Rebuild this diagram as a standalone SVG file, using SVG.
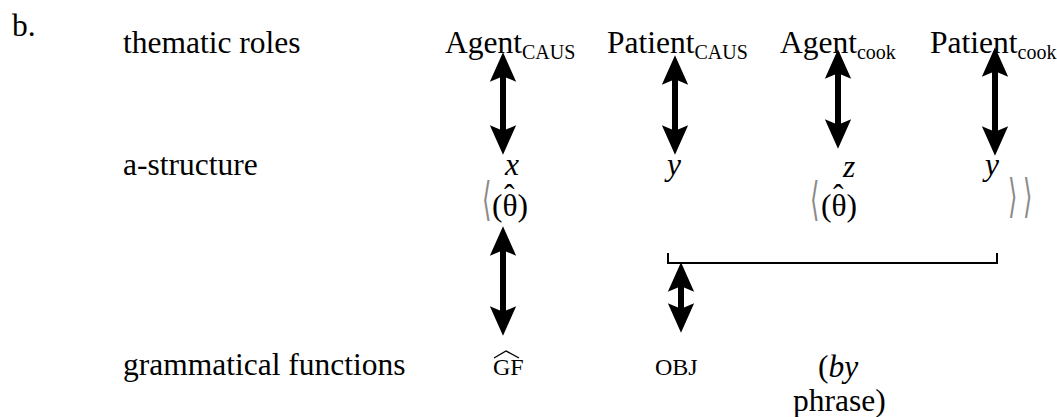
<svg xmlns="http://www.w3.org/2000/svg" width="1057" height="417" viewBox="0 0 1057 417">
<style>
text{font-family:"Liberation Serif","Times New Roman","DejaVu Serif",serif;fill:#000}
.m{font-size:31.5px}
.sub{font-size:20px}
.it{font-style:italic}
.sc{font-size:24px}
.ang{font-family:"DejaVu Sans ExtraLight","DejaVu Sans",sans-serif;font-weight:200;font-size:44px;fill:#8a8a8a}
.conn{stroke:#000;stroke-width:6;fill:none}
.brk{stroke:#000;stroke-width:2;fill:none}
</style>
<defs>
<marker id="ah" markerUnits="userSpaceOnUse" markerWidth="40" markerHeight="40" refX="0" refY="0" orient="auto-start-reverse" overflow="visible" viewBox="-10 -15 35 30">
<path d="M20,0 L-6,-11.5 L-1,0 L-6,11.5 Z" fill="#000"/>
</marker>
</defs>
<rect width="1057" height="417" fill="#fff"/>
<g id="label-b"><text class="m" x="12" y="36">b.</text></g>
<g id="row-thematic"><text class="m" x="123" y="53">thematic roles</text></g>
<g id="row-astructure"><text class="m" x="123" y="175">a-structure</text></g>
<g id="row-gf"><text class="m" x="123" y="375">grammatical functions</text></g>

<g id="agent-caus"><text class="m" x="445" y="53">Agent<tspan class="sub" dy="6">CAUS</tspan></text></g>
<g id="patient-caus"><text class="m" x="607" y="53">Patient<tspan class="sub" dy="6">CAUS</tspan></text></g>
<g id="agent-cook"><text class="m" x="780" y="53">Agent<tspan class="sub" dy="6">cook</tspan></text></g>
<g id="patient-cook"><text class="m" x="930" y="53">Patient<tspan class="sub" dy="6">cook</tspan></text></g>

<g id="var-x"><text class="m it" x="505" y="175">x</text></g>
<g id="var-y1"><text class="m it" x="667" y="175">y</text></g>
<g id="var-z"><text class="m it" x="843" y="177">z</text></g>
<g id="var-y2"><text class="m it" x="985" y="175">y</text></g>

<g id="theta1"><text class="ang" transform="translate(482,215) scale(0.55,1.05)">⟨</text><text class="m" x="492" y="216">(θ<tspan dx="-13.5" dy="-10">ˆ</tspan><tspan dx="3" dy="10">)</tspan></text></g>
<g id="theta2"><text class="ang" transform="translate(810,215) scale(0.55,1.05)">⟨</text><text class="m" x="821" y="216">(θ<tspan dx="-13.5" dy="-10">ˆ</tspan><tspan dx="3" dy="10">)</tspan></text></g>
<g id="close"><text class="ang" transform="translate(1008,212) scale(0.55,1.05)">⟩</text><text class="ang" transform="translate(1023,212) scale(0.55,1.05)">⟩</text></g>

<g id="gf-hat"><text class="sc" x="493" y="375">GF</text><path d="M494,358 L506,351 L519,358" stroke="#000" stroke-width="1.4" fill="none"/></g>
<g id="obj"><text class="sc" x="655" y="375">OBJ</text></g>
<g id="by-phrase"><text class="m" x="818" y="377">(<tspan class="it">by</tspan></text><text class="m" x="793" y="411">phrase)</text></g>

<g id="connectors">
<path class="conn" d="M503,75 L503,132" marker-start="url(#ah)" marker-end="url(#ah)"/>
<path class="conn" d="M675,78 L675,132" marker-start="url(#ah)" marker-end="url(#ah)"/>
<path class="conn" d="M838,72 L838,126" marker-start="url(#ah)" marker-end="url(#ah)"/>
<path class="conn" d="M995,70 L995,133" marker-start="url(#ah)" marker-end="url(#ah)"/>
<path class="conn" d="M503,249 L503,313" marker-start="url(#ah)" marker-end="url(#ah)"/>
<path class="conn" d="M681,285 L681,310" marker-start="url(#ah)" marker-end="url(#ah)"/>
<path class="brk" d="M668,253 L668,263 L997,263 L997,253"/>
</g>
</svg>
